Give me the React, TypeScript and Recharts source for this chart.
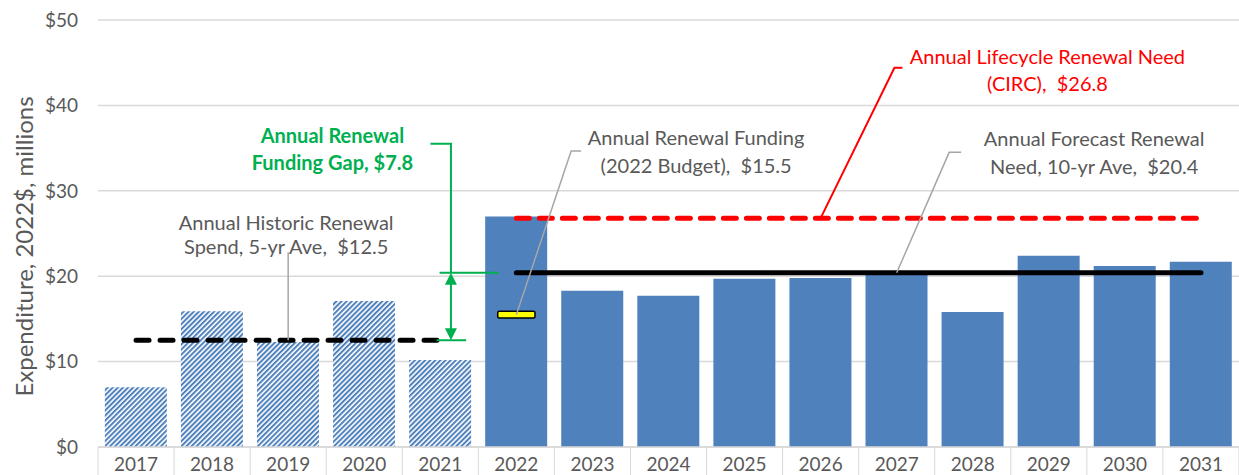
import {
  BarChart,
  Bar,
  Cell,
  XAxis,
  YAxis,
  CartesianGrid,
  ReferenceLine,
} from 'recharts';

const YEARS = ['2017', '2018', '2019', '2020', '2021', '2022', '2023', '2024',
  '2025', '2026', '2027', '2028', '2029', '2030', '2031'];
const SPEND = [7.0, 15.9, 12.3, 17.1, 10.2, 27.0, 18.3, 17.7, 19.7, 19.8, 20.3,
  15.8, 22.4, 21.2, 21.7];
const HISTORIC_COUNT = 5;
const Y_TICKS = [0, 10, 20, 30, 40, 50];

const HISTORIC_AVG = 12.5;
const FORECAST_AVG = 20.4;
const BUDGET = 15.5;
const CIRC_NEED = 26.8;

const W = 1239;
const H = 475;
const Y_AXIS_W = 98;
const X_AXIS_H = 28;
const BAND = (W - Y_AXIS_W) / YEARS.length;

const GRAY = '#595959';
const LEADER = '#a6a6a6';
const GRID = '#d9d9d9';
const BLUE = '#4f81bd';
const GREEN = '#00b050';
const RED = '#ff0000';
const FONT = 'Lato, "Open Sans", sans-serif';

const data = YEARS.map((year, i) => ({ year, value: SPEND[i] }));
const lastIdx = YEARS.length - 1;
const firstYear = YEARS[0];
const lastHistYear = YEARS[HISTORIC_COUNT - 1];
const firstFcYear = YEARS[HISTORIC_COUNT];
const lastYear = YEARS[lastIdx];

function XTick({ x, y, payload, index }: any) {
  const half = BAND / 2;
  return (
    <g>
      <line x1={x - half} x2={x - half} y1={y} y2={y + X_AXIS_H} stroke={GRID} />
      {index === lastIdx && (
        <line x1={x + half} x2={x + half} y1={y} y2={y + X_AXIS_H} stroke={GRID} />
      )}
      <text x={x} y={y + 16} textAnchor="middle" dominantBaseline="central"
        fill={GRAY} fontSize={19} fontFamily={FONT}>
        {payload.value}
      </text>
    </g>
  );
}

function YLabel({ viewBox }: any) {
  const cx = viewBox.x + 23;
  const cy = viewBox.y + viewBox.height / 2 + 13;
  return (
    <text transform={`translate(${cx},${cy}) rotate(-90)`} textAnchor="middle"
      dominantBaseline="central" fill={GRAY} fontSize={24} fontFamily={FONT}>
      Expenditure, 2022$, millions
    </text>
  );
}

// shift the ends of a category-anchored segment by a fraction of a band
const offset = (d1: number, d2: number, draw: (p: any) => any) =>
  ({ x1, y1, x2, y2 }: any) => draw({ x1: x1 + d1 * BAND, y1, x2: x2 + d2 * BAND, y2 });

// leader line from a mark up to an elbow, short stub, then two lines of text
function leader(color: string, textColor: string, lines: string[], dx: number,
  dys: number[], stub: number) {
  return ({ x1, y1, x2, y2 }: any) => (
    <g>
      <path d={`M${x1},${y1} L${x2},${y2} h${stub}`} fill="none" stroke={color}
        strokeWidth={color === RED ? 2 : 1.5} />
      {lines.map((t, i) => (
        <text key={i} x={x2 + dx} y={y2 + dys[i]} textAnchor="middle"
          dominantBaseline="central" fill={textColor} fontSize={20} fontFamily={FONT}
          style={{ whiteSpace: 'pre' }}>
          {t}
        </text>
      ))}
    </g>
  );
}

function GapBracket({ x1, y1, x2, y2 }: any) {
  return (
    <g>
      <path d={`M${x1},${y1} H${x2} V${y2}`} fill="none" stroke={GREEN} strokeWidth={2} />
      <text x={x1 - 98} y={y1 - 9} textAnchor="middle" dominantBaseline="central"
        fill={GREEN} fontSize={20} fontWeight={700} fontFamily={FONT}>
        Annual Renewal
      </text>
      <text x={x1 - 98} y={y1 + 18} textAnchor="middle" dominantBaseline="central"
        fill={GREEN} fontSize={20} fontWeight={700} fontFamily={FONT}>
        Funding Gap, $7.8
      </text>
    </g>
  );
}

function DoubleArrow({ x1, y1, y2 }: any) {
  const top = Math.min(y1, y2);
  const bot = Math.max(y1, y2);
  return (
    <g>
      <line x1={x1} x2={x1} y1={top + 10} y2={bot - 10} stroke={GREEN} strokeWidth={2} />
      <polygon points={`${x1},${top} ${x1 - 6},${top + 12} ${x1 + 6},${top + 12}`} fill={GREEN} />
      <polygon points={`${x1},${bot} ${x1 - 6},${bot - 12} ${x1 + 6},${bot - 12}`} fill={GREEN} />
    </g>
  );
}

function BudgetMark({ x1, y1, y2 }: any) {
  const w = BAND * 0.49;
  return (
    <rect x={x1 - w / 2} y={Math.min(y1, y2)} width={w} height={Math.abs(y2 - y1)}
      rx={1.5} fill="#ffff00" stroke="#000" strokeWidth={1.5} />
  );
}

const greenLine = ({ x1, y1, x2, y2 }: any) => (
  <line x1={x1} y1={y1} x2={x2} y2={y2} stroke={GREEN} strokeWidth={2} />
);

export default function App() {
  return (
    <div style={{ position: 'fixed', left: 0, top: 0, background: '#fff' }}>
      <svg width={0} height={0} style={{ position: 'absolute' }}>
        <defs>
          <pattern id="hatch" patternUnits="userSpaceOnUse" width={3.6} height={3.6}
            patternTransform="rotate(45)">
            <rect width={3.6} height={3.6} fill="#fff" />
            <rect width={2} height={3.6} fill={BLUE} />
          </pattern>
        </defs>
      </svg>
      <BarChart width={W} height={H} data={data} barCategoryGap="9%"
        margin={{ top: 20, right: 0, bottom: 0, left: 0 }}>
        <CartesianGrid vertical={false} stroke={GRID} strokeWidth={1.5} />
        <XAxis dataKey="year" height={X_AXIS_H} tickLine={false} tickSize={0}
          tickMargin={0} axisLine={{ stroke: GRID, strokeWidth: 1.5 }}
          tick={<XTick />} interval={0} />
        <YAxis width={Y_AXIS_W} domain={[0, 50]} ticks={Y_TICKS} axisLine={false}
          tickLine={false} tickSize={0} tickMargin={20}
          tickFormatter={(v: number) => `$${v}`}
          tick={{ fill: GRAY, fontSize: 19, fontFamily: FONT }}
          label={<YLabel />} />
        <Bar dataKey="value" isAnimationActive={false}>
          {data.map((_, i) => (
            <Cell key={i} fill={i < HISTORIC_COUNT ? 'url(#hatch)' : BLUE} />
          ))}
        </Bar>

        {/* historic average */}
        <ReferenceLine
          segment={[{ x: firstYear, y: HISTORIC_AVG }, { x: lastHistYear, y: HISTORIC_AVG }]}
          stroke="#000" strokeWidth={5} strokeDasharray="13 11" strokeLinecap="round" />
        {/* CIRC need */}
        <ReferenceLine
          segment={[{ x: firstFcYear, y: CIRC_NEED }, { x: lastYear, y: CIRC_NEED }]}
          stroke={RED} strokeWidth={5} strokeDasharray="13 10" strokeLinecap="round" />
        {/* forecast average */}
        <ReferenceLine
          segment={[{ x: firstFcYear, y: FORECAST_AVG }, { x: lastYear, y: FORECAST_AVG }]}
          stroke="#000" strokeWidth={5} strokeLinecap="round" />
        {/* 2022 budget marker */}
        <ReferenceLine
          segment={[{ x: firstFcYear, y: BUDGET - 0.4 }, { x: firstFcYear, y: BUDGET + 0.4 }]}
          shape={BudgetMark} />

        {/* funding gap */}
        <ReferenceLine
          segment={[{ x: lastHistYear, y: FORECAST_AVG }, { x: lastHistYear, y: FORECAST_AVG }]}
          shape={offset(-0.01, 0.77, greenLine)} />
        <ReferenceLine
          segment={[{ x: lastHistYear, y: HISTORIC_AVG }, { x: lastHistYear, y: HISTORIC_AVG }]}
          shape={offset(-0.05, 0.34, greenLine)} />
        <ReferenceLine
          segment={[{ x: lastHistYear, y: HISTORIC_AVG }, { x: lastHistYear, y: FORECAST_AVG }]}
          shape={offset(0.14, 0.14, DoubleArrow)} />
        <ReferenceLine
          segment={[{ x: lastHistYear, y: 35.5 }, { x: lastHistYear, y: FORECAST_AVG }]}
          shape={offset(-0.13, 0.14, GapBracket)} />

        {/* annotations */}
        <ReferenceLine
          segment={[{ x: YEARS[2], y: HISTORIC_AVG }, { x: YEARS[2], y: 22.8 }]}
          shape={leader(LEADER, GRAY, ['Annual Historic Renewal', 'Spend, 5-yr Ave,  $12.5'],
            -2, [-30, -6], 0)} />
        <ReferenceLine
          segment={[{ x: firstFcYear, y: BUDGET }, { x: firstFcYear, y: 34.66 }]}
          shape={offset(0, 0.72, leader(LEADER, GRAY,
            ['Annual Renewal Funding', '(2022 Budget),  $15.5'], 125, [-14, 14], 10))} />
        <ReferenceLine
          segment={[{ x: YEARS[10], y: FORECAST_AVG }, { x: YEARS[10], y: 34.5 }]}
          shape={offset(0, 0.69, leader(LEADER, GRAY,
            ['Annual Forecast Renewal', 'Need, 10-yr Ave,  $20.4'], 145, [-14, 14], 12))} />
        <ReferenceLine
          segment={[{ x: YEARS[9], y: CIRC_NEED }, { x: YEARS[9], y: 44.4 }]}
          shape={offset(0, 0.97, leader(RED, RED,
            ['Annual Lifecycle Renewal Need', '(CIRC),  $26.8'], 153, [-12, 15], 8))} />
      </BarChart>
    </div>
  );
}
